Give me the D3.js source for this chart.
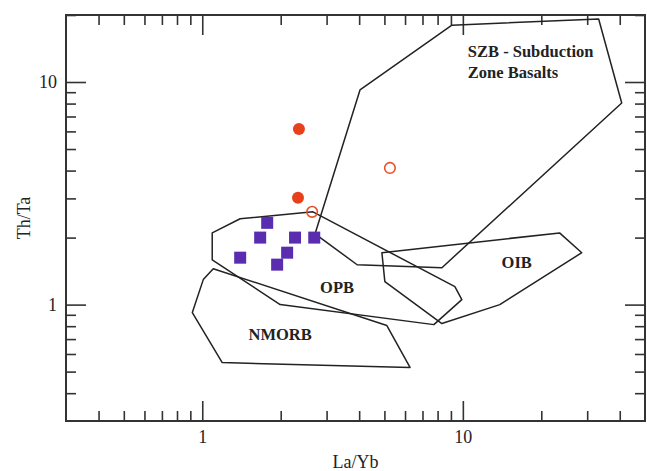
<!DOCTYPE html>
<html><head><meta charset="utf-8">
<script src="https://cdn.jsdelivr.net/npm/d3@7"></script>
<style>body{margin:0;background:#fff}svg{display:block}</style>
</head><body>
<script>
// ---- data ----
const xDomain = [0.3, 50];
const yDomain = [0.3, 20];
const majorTicks = [1, 10];
const xMinorTicks = [0.4,0.5,0.6,0.7,0.8,0.9,2,3,4,5,6,7,8,9,20,30,40];
const yMinorTicks = [0.4,0.5,0.6,0.7,0.8,0.9,2,3,4,5,6,7,8,9,20];
const xTitle = "La/Yb";
const yTitle = "Th/Ta";

const fieldNames = ["SZB", "OPB", "NMORB", "OIB"];
const szbField = [[2.71,2.08],[4.03,9.21],[9.08,18.0],[33.2,19.2],[40.7,8.05],[8.31,1.465],[3.93,1.51]];
const opbField = [[1.092,2.10],[1.398,2.43],[2.66,2.61],[9.32,1.204],[9.91,1.053],[7.74,0.813],[1.99,1.0],[1.092,1.59]];
const nmorbField = [[1.102,1.45],[1.009,1.295],[0.916,0.921],[1.193,0.549],[6.27,0.522],[5.11,0.805]];
const oibField = [[4.89,1.711],[23.5,2.10],[28.6,1.711],[13.86,1.0],[8.31,0.822],[5.02,1.268]];

const fieldLabels = [
  {lines:["SZB - Subduction","Zone Basalts"], x:10.45, y:12.9, anchor:"start"},
  {lines:["OPB"], x:3.29, y:1.13, anchor:"middle"},
  {lines:["NMORB"], x:1.99, y:0.69, anchor:"middle"},
  {lines:["OIB"], x:16.1, y:1.465, anchor:"middle"}
];

const filledCircles = [[2.35,6.15],[2.33,3.02]];
const openCircles = [[5.25,4.11],[2.64,2.61]];
const squares = [[1.775,2.33],[1.668,2.0],[2.27,2.0],[2.69,2.0],[1.398,1.625],[2.117,1.711],[1.938,1.512]];

// ---- drawing ----
const W = 647, H = 471;
const m = {left:66, top:15, right:2, bottom:50};
const svg = d3.select("body").append("svg").attr("width", W).attr("height", H);
const x = d3.scaleLog().domain(xDomain).range([m.left, W - m.right]);
const y = d3.scaleLog().domain(yDomain).range([H - m.bottom, m.top]);
const font = "'Liberation Serif', 'Times New Roman', serif";
const axisColor = "#333";

function styleAxis(g){
  g.select(".domain").remove();
  g.selectAll("line").attr("stroke", axisColor).attr("stroke-width", 1.6);
  g.selectAll("text").attr("font-family", font).attr("font-size", 18).attr("fill", "#222");
}
const fmt = d3.format("d");
// bottom
svg.append("g").attr("transform", `translate(0,${y.range()[0]})`)
  .call(d3.axisBottom(x).tickValues(majorTicks).tickFormat(fmt).tickSize(-20).tickPadding(9)).call(styleAxis);
svg.append("g").attr("transform", `translate(0,${y.range()[0]})`)
  .call(d3.axisBottom(x).tickValues(xMinorTicks).tickFormat("").tickSize(-10)).call(styleAxis);
// top
svg.append("g").attr("transform", `translate(0,${y.range()[1]})`)
  .call(d3.axisTop(x).tickValues(majorTicks).tickFormat("").tickSize(-20)).call(styleAxis);
svg.append("g").attr("transform", `translate(0,${y.range()[1]})`)
  .call(d3.axisTop(x).tickValues(xMinorTicks).tickFormat("").tickSize(-10)).call(styleAxis);
// left
svg.append("g").attr("transform", `translate(${x.range()[0]},0)`)
  .call(d3.axisLeft(y).tickValues(majorTicks).tickFormat(fmt).tickSize(-20).tickPadding(9)).call(styleAxis);
svg.append("g").attr("transform", `translate(${x.range()[0]},0)`)
  .call(d3.axisLeft(y).tickValues(yMinorTicks).tickFormat("").tickSize(-10)).call(styleAxis);
// right
svg.append("g").attr("transform", `translate(${x.range()[1]},0)`)
  .call(d3.axisRight(y).tickValues(majorTicks).tickFormat("").tickSize(-20)).call(styleAxis);
svg.append("g").attr("transform", `translate(${x.range()[1]},0)`)
  .call(d3.axisRight(y).tickValues(yMinorTicks).tickFormat("").tickSize(-10)).call(styleAxis);

// frame
svg.append("rect").attr("x", x.range()[0]).attr("y", y.range()[1])
  .attr("width", x.range()[1]-x.range()[0]).attr("height", y.range()[0]-y.range()[1])
  .attr("fill","none").attr("stroke", axisColor).attr("stroke-width", 2);

// titles
svg.append("text").attr("x", (x.range()[0]+x.range()[1])/2).attr("y", 468)
  .attr("text-anchor","middle").attr("font-family", font).attr("font-size", 18).attr("fill","#222").text(xTitle);
svg.append("text").attr("transform", `translate(30,${(y.range()[0]+y.range()[1])/2}) rotate(-90)`)
  .attr("text-anchor","middle").attr("font-family", font).attr("font-size", 18).attr("fill","#222").text(yTitle);

// fields
const line = d3.line().x(d => x(d[0])).y(d => y(d[1])).curve(d3.curveLinearClosed);
[szbField, opbField, nmorbField, oibField].forEach((f, i) => {
  svg.append("path").attr("class", "field-" + fieldNames[i]).attr("d", line(f))
    .attr("fill","none").attr("stroke","#222").attr("stroke-width",1.5).attr("stroke-linejoin","round");
});

// field labels
fieldLabels.forEach(l => {
  const t = svg.append("text").attr("x", x(l.x)).attr("y", y(l.y))
    .attr("text-anchor", l.anchor).attr("font-family", font).attr("font-weight","bold")
    .attr("font-size", 16.5).attr("fill","#222");
  l.lines.forEach((s, k) => t.append("tspan").attr("x", x(l.x)).attr("dy", k ? 21 : 0).text(s));
});

// points
svg.append("g").selectAll("rect").data(squares).join("rect")
  .attr("x", d => x(d[0]) - 6).attr("y", d => y(d[1]) - 6).attr("width", 12).attr("height", 12)
  .attr("fill", "#5a2db0");
svg.append("g").selectAll("circle").data(filledCircles).join("circle")
  .attr("cx", d => x(d[0])).attr("cy", d => y(d[1])).attr("r", 6).attr("fill", "#e8401a");
svg.append("g").selectAll("circle").data(openCircles).join("circle")
  .attr("cx", d => x(d[0])).attr("cy", d => y(d[1])).attr("r", 5.3).attr("fill", "none")
  .attr("stroke", "#e8502a").attr("stroke-width", 1.6);
</script>
</body></html>
